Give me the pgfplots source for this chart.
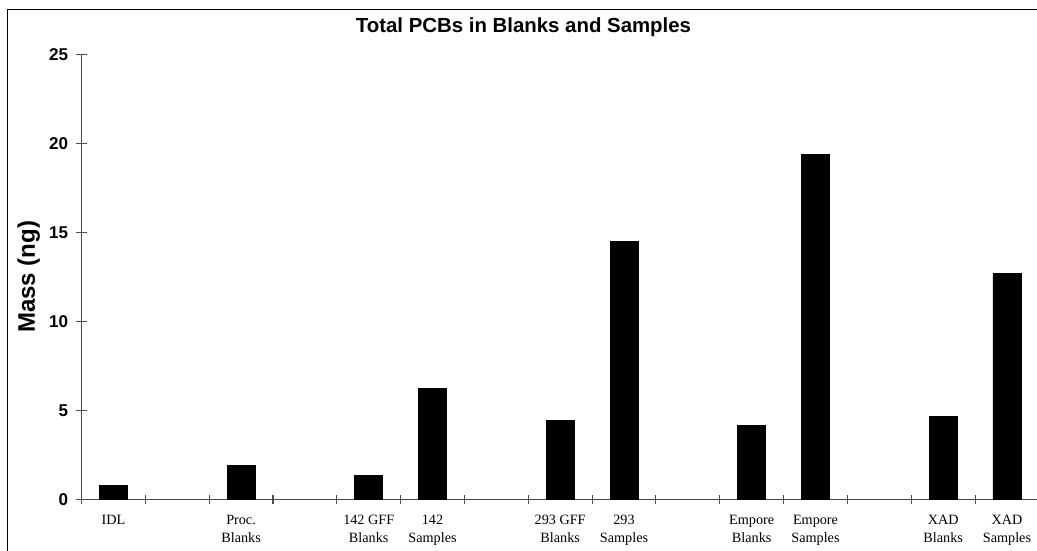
\documentclass[border=0pt]{standalone}
\usepackage{pgfplots}
\pgfplotsset{compat=1.18}
\usepackage{fontspec}
\setmainfont{Liberation Serif}
\newfontfamily\arial{Liberation Sans}
\begin{document}
\begin{tikzpicture}
\begin{axis}[
  at={(0,0)}, anchor=south west,
  scale only axis, width=716.6pt, height=333.75pt,
  xmin=-0.5, xmax=14.47, ymin=0, ymax=25,
  axis lines*=left,
  axis line style={draw=black!70, line width=0.8pt},
  every tick/.style={draw=black!70, line width=0.8pt},
  tick align=center,
  xtick={0,2,4,5,7,8,10,11,13,14},
  xticklabels={IDL,{Proc.\\Blanks},{142 GFF\\Blanks},{142\\Samples},{293 GFF\\Blanks},{293\\Samples},{Empore\\Blanks},{Empore\\Samples},{XAD\\Blanks},{XAD\\Samples}},
  x tick label style={font=\fontsize{10.65}{13.5}\selectfont, align=center, anchor=north, yshift=-4pt},
  major x tick style={draw=none},
  minor xtick={-0.5,0.5,1.5,2.5,3.5,4.5,5.5,6.5,7.5,8.5,9.5,10.5,11.5,12.5,13.5},
  minor tick length=7pt,
  major tick length=8.5pt,
  ytick={0,5,10,15,20,25},
  /pgf/number format/assume math mode=true,
  y tick label style={font=\arial\bfseries\fontsize{12.8}{14}\selectfont, xshift=-2.25pt},
  ylabel={Mass (ng)},
  ylabel style={font=\arial\bfseries\fontsize{18}{20}\selectfont, at={(axis description cs:-0.0553,0.5)}, anchor=center},
  title={Total PCBs in Blanks and Samples},
  title style={font=\arial\bfseries\fontsize{15.3}{18}\selectfont, at={(axis description cs:0.4626,1.0322)}, anchor=base},
  clip=false,
]
\addplot[ybar, bar width=21pt, fill=black, draw=black] coordinates {
  (0,0.8) (2,1.9) (4,1.35) (5,6.25) (7,4.45) (8,14.5) (10,4.15) (11,19.4) (13,4.65) (14,12.7)
};
\end{axis}
\draw[line width=0.9pt] (-55.65pt,-40pt) -- (-55.65pt,367.5pt) -- (720pt,367.5pt);
\pgfresetboundingbox
\path (-61.125pt,-38pt) rectangle (716.625pt,374.5pt);
\end{tikzpicture}
\end{document}
